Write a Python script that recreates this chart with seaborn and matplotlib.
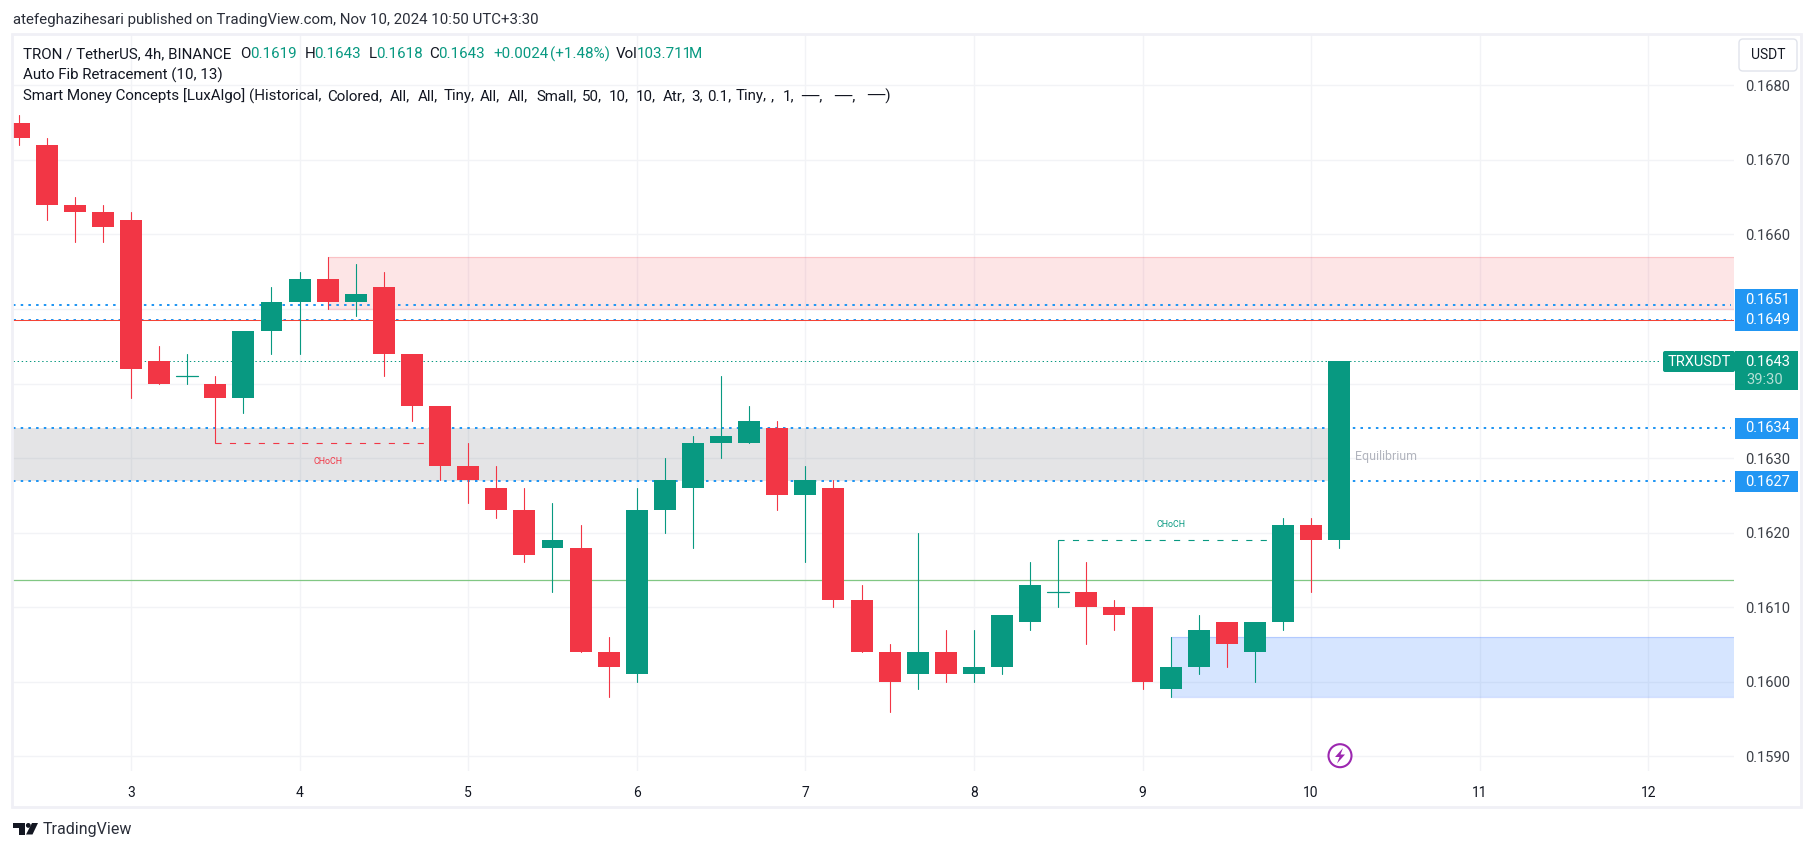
import numpy as np
import pandas as pd
import matplotlib.pyplot as plt
from matplotlib.patches import Rectangle, FancyBboxPatch, Circle, Polygon
import seaborn as sns

W, H = 1814, 851

# candles, 4h bars
opens = [0.1675, 0.1672, 0.1664, 0.1663, 0.1662, 0.1643, 0.1641, 0.1640, 0.1638, 0.1647, 0.1651, 0.1654,
         0.1651, 0.1653, 0.1644, 0.1637, 0.1629, 0.1626, 0.1623, 0.1618, 0.1618, 0.1604, 0.1601, 0.1623,
         0.1626, 0.1632, 0.1632, 0.1634, 0.1625, 0.1626, 0.1611, 0.1604, 0.1601, 0.1604, 0.1601, 0.1602,
         0.1608, 0.1612, 0.1612, 0.1610, 0.1610, 0.1599, 0.1602, 0.1608, 0.1604, 0.1608, 0.1621, 0.1619]
closes = [0.1673, 0.1664, 0.1663, 0.1661, 0.1642, 0.1640, 0.1641, 0.1638, 0.1647, 0.1651, 0.1654, 0.1651,
          0.1652, 0.1644, 0.1637, 0.1629, 0.1627, 0.1623, 0.1617, 0.1619, 0.1604, 0.1602, 0.1623, 0.1627,
          0.1632, 0.1633, 0.1635, 0.1625, 0.1627, 0.1611, 0.1604, 0.1600, 0.1604, 0.1601, 0.1602, 0.1609,
          0.1613, 0.1612, 0.1610, 0.1609, 0.1600, 0.1602, 0.1607, 0.1605, 0.1608, 0.1621, 0.1619, 0.1643]
highs = [0.1676, 0.1673, 0.1665, 0.1664, 0.1663, 0.1645, 0.1644, 0.1641, 0.1647, 0.1653, 0.1655, 0.1657,
         0.1656, 0.1655, 0.1644, 0.1637, 0.1632, 0.1629, 0.1626, 0.1624, 0.1621, 0.1606, 0.1626, 0.1630,
         0.1633, 0.1641, 0.1637, 0.1635, 0.1629, 0.1627, 0.1613, 0.1605, 0.1620, 0.1607, 0.1607, 0.1609,
         0.1616, 0.1619, 0.1616, 0.1611, 0.1610, 0.1606, 0.1609, 0.1608, 0.1608, 0.1622, 0.1622, 0.1643]
lows = [0.1672, 0.1662, 0.1659, 0.1659, 0.1638, 0.1640, 0.1640, 0.1632, 0.1636, 0.1644, 0.1644, 0.1650,
        0.1649, 0.1641, 0.1635, 0.1627, 0.1624, 0.1622, 0.1616, 0.1612, 0.1604, 0.1598, 0.1600, 0.1620,
        0.1618, 0.1630, 0.1632, 0.1623, 0.1616, 0.1610, 0.1604, 0.1596, 0.1599, 0.1600, 0.1600, 0.1601,
        0.1607, 0.1610, 0.1605, 0.1607, 0.1599, 0.1598, 0.1601, 0.1602, 0.1600, 0.1607, 0.1612, 0.1618]
# green dojis have open == close
doji_up = [6, 37]

day_bars = [4, 10, 16, 22, 28, 34, 40, 46, 52, 58]
day_labels = ['3', '4', '5', '6', '7', '8', '9', '10', '11', '12']
price_ticks = [0.1590, 0.1600, 0.1610, 0.1620, 0.1630, 0.1640, 0.1650, 0.1660, 0.1670, 0.1680]
price_labels = ['0.1590', '0.1600', '0.1610', '0.1620', '0.1630', '', '', '0.1660', '0.1670', '0.1680']

fib_levels = [0.16505, 0.16486, 0.16340, 0.16269]
fib_labels = ['0.1651', '0.1649', '0.1634', '0.1627']
last_price = 0.1643
red_level = 0.16485
green_level = 0.16136

UP = '#089981'
DOWN = '#F23645'
BLUE = '#2196F3'
GRID = '#F2F3F6'
FRAME = '#F0F0F6'
TXT = '#131722'

df = pd.DataFrame({'open': opens, 'high': highs, 'low': lows, 'close': closes})
df['bar'] = np.arange(len(df))
df['dir'] = np.where(df['close'] >= df['open'], 'up', 'down')
df['bottom'] = df[['open', 'close']].min(axis=1)
df['body'] = (df['close'] - df['open']).abs()
wicks = df.melt(id_vars=['bar', 'dir'], value_vars=['low', 'high'], value_name='price').sort_values(['bar', 'price'])

sns.set_theme(style='whitegrid')
plt.rcParams['font.family'] = ['Roboto', 'DejaVu Sans']

fig = plt.figure(figsize=(W / 100, H / 100), dpi=100)
ax = fig.add_axes([13 / W, 1 - 771 / H, (1734 - 13) / W, (771 - 35) / H])
ax.set_xlim(-0.199, 61.05)
ax.set_ylim(0.158803, 0.168675)
ax.grid(True, color=GRID, lw=1.0)
ax.set_axisbelow(True)
for s in ax.spines.values():
    s.set_visible(False)

# zones
ax.add_patch(Rectangle((11, 0.1650), 61.05 - 11, 0.0007, fc='#F23645', alpha=0.13, ec='none', zorder=1))
ax.add_patch(Rectangle((-0.2, 0.16269), 47.2, 0.16340 - 0.16269, fc='#787B86', alpha=0.2, ec='none', zorder=1))
ax.add_patch(Rectangle((41, 0.1598), 61.05 - 41, 0.0008, fc='#2979FF', alpha=0.19, ec='none', zorder=1))
for y0, x0, c in [(0.1657, 11, '#F23645'), (0.1650, 11, '#F23645'), (0.1606, 41, '#2962FF'), (0.1598, 41, '#2962FF')]:
    ax.plot([x0, 61.05], [y0, y0], color=c, alpha=0.2, lw=0.9, zorder=1.1)

# levels
for lv in fib_levels:
    thin = lv == fib_levels[1]
    ax.plot([-0.2, 60.95], [lv, lv], color=BLUE, lw=0.72 if thin else 1.44,
            ls=(0, (2.5, 5)) if thin else (0, (1.25, 2.6)), zorder=2)
ax.axhline(red_level, color='#F44336', lw=0.75, zorder=2)
ax.axhline(green_level, color='#81C784', lw=0.9, zorder=2)
ax.plot([-0.2, 58.4], [last_price, last_price], color=UP, lw=0.72, ls=(0, (1.4, 2.7)), zorder=2)

# CHoCH structure
ax.plot([7, 15], [0.1632, 0.1632], color=DOWN, lw=0.8, ls=(0, (5.5, 7.5)), zorder=2)
ax.plot([37, 45], [0.1619, 0.1619], color=UP, lw=0.8, ls=(0, (5.5, 7.5)), zorder=2)

# wicks and bodies
sns.lineplot(data=wicks, x='bar', y='price', hue='dir', units='bar', estimator=None,
             palette={'up': UP, 'down': DOWN}, lw=0.8, legend=False, ax=ax, zorder=3)
colors = df['dir'].map({'up': UP, 'down': DOWN})
ax.bar(df['bar'], df['body'], bottom=df['bottom'], width=0.78, color=colors, lw=0, zorder=4)
for i in doji_up:
    ax.plot([i - 0.39, i + 0.39], [opens[i], opens[i]], color=UP, lw=0.9, zorder=4)

ax.yaxis.tick_right()
ax.set_yticks(price_ticks)
ax.set_yticklabels(price_labels)
ax.set_xticks(day_bars)
ax.set_xticklabels(day_labels)
ax.tick_params(axis='y', length=0, pad=8, labelsize=10.5, colors='#3c4048')
ax.tick_params(axis='x', length=0, pad=11, labelsize=10, colors=TXT)
ax.set_xlabel('')
ax.set_ylabel('')

ax.text(7 + 4, 0.16296, 'CHoCH', color=DOWN, fontsize=6.4, ha='center', va='center', zorder=5)
ax.text(41, 0.16211, 'CHoCH', color=UP, fontsize=6.4, ha='center', va='center', zorder=5)
ax.text(47.55, 0.16302, 'Equilibrium', color='#B2B5BE', fontsize=8.9, ha='left', va='center', zorder=5)

# overlay in pixels for the TradingView furniture
ov = fig.add_axes([0, 0, 1, 1], zorder=10)
ov.set_xlim(0, W)
ov.set_ylim(H, 0)
ov.axis('off')
ov.patch.set_alpha(0)

ov.add_patch(Rectangle((12, 34), 1789, 772.5, fc='none', ec=FRAME, lw=2.0))

ov.text(13, 20, 'atefeghazihesari published on TradingView.com, Nov 10, 2024 10:50 UTC+3:30',
        fontsize=10.8, color='#2a2e39', va='center')

head_parts = [(23, 'TRON / TetherUS, 4h, BINANCE', TXT), (240.6, 'O', TXT), (250, '0.1619', UP),
              (305, 'H', TXT), (314, '0.1643', UP), (368.5, 'L', TXT), (376, '0.1618', UP),
              (429, 'C', TXT), (438, '0.1643', UP), (493, '+0.0024', UP), (550, '(+1.48%)', UP),
              (616, 'Vol', TXT), (637, '103.711', UP), (689, 'M', UP)]
for x, s, c in head_parts:
    ov.text(x, 54, s, fontsize=10.9, color=c, va='center')
ov.text(23, 75, 'Auto Fib Retracement (10, 13)', fontsize=10.9, color=TXT, va='center')

smc_parts = [(23, 'Smart Money Concepts [LuxAlgo]'), (248.5, '(Historical,'), (327, 'Colored,'), (390, 'All,'),
             (417.6, 'All,'), (444, 'Tiny,'), (480, 'All,'), (508, 'All,'), (536, 'Small,'), (582, '50,'),
             (609, '10,'), (636, '10,'), (663, 'Atr,'), (691, '3,'), (707, '0.1,'), (736, 'Tiny,'),
             (771, ','), (783, '1,'), (801, '──,'), (834, '──,'), (867, '──)')]
for x, s in smc_parts:
    ov.text(x, 96, s, fontsize=10.9, color=TXT, va='center')

# USDT button
ov.add_patch(FancyBboxPatch((1741, 41), 54, 28, boxstyle='round,pad=2,rounding_size=4', fc='white', ec='#E0E3EB', lw=1))
ov.text(1768, 55, 'USDT', fontsize=10, color=TXT, ha='center', va='center')

# price labels
label_boxes = [(289, 310), (310, 331), (418, 439), (471, 492)]
for (y0, y1), s in zip(label_boxes, fib_labels):
    ov.add_patch(Rectangle((1735, y0), 62.5, y1 - y0, fc=BLUE, ec='none'))
    ov.text(1768, (y0 + y1) / 2, s, color='white', fontsize=10.5, ha='center', va='center')
ov.add_patch(Rectangle((1735, 351), 62.5, 39, fc=UP, ec='none'))
ov.text(1768, 361.5, '0.1643', color='white', fontsize=10.5, ha='center', va='center')
ov.text(1746, 379.5, '39:30', color='#B5E0D6', fontsize=10.5, ha='left', va='center')
ov.add_patch(FancyBboxPatch((1664, 352), 70, 19, boxstyle='round,pad=1,rounding_size=2', fc=UP, ec='none'))
ov.text(1699, 361.5, 'TRXUSDT', color='white', fontsize=10.5, ha='center', va='center')

# session break icon
ov.add_patch(Circle((1340, 755.7), 11.5, fc='white', ec='#9C27B0', lw=1.5))
ov.add_patch(Polygon([(1343, 748), (1335, 757), (1339.5, 757), (1337, 763.5), (1345, 754.5), (1340.5, 754.5)],
                     fc='#9C27B0', ec='none'))

# logo
ov.add_patch(Polygon([(13, 823), (25, 823), (25, 834.5), (19, 834.5), (19, 828), (13, 828)], fc=TXT, ec='none'))
ov.add_patch(Circle((28.3, 825.4), 2.4, fc=TXT, ec='none'))
ov.add_patch(Polygon([(32, 823), (38, 823), (32.5, 834.5), (26, 834.5)], fc=TXT, ec='none'))
ov.text(43, 829.5, 'TradingView', fontsize=11.5, color='#2a2e39', va='center')

fig.savefig('out.png', dpi=100, facecolor='white')
